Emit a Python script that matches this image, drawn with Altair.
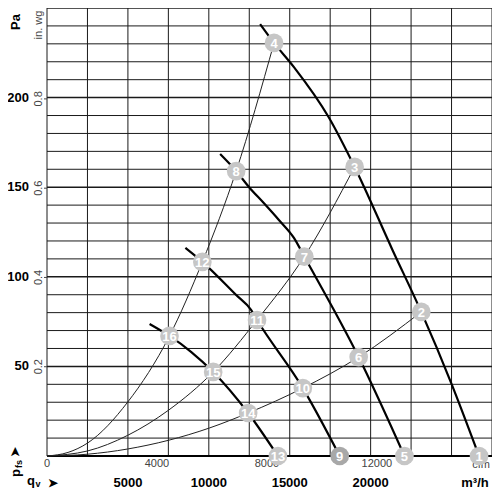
import altair as alt
import pandas as pd

# ---------------- data ----------------
# Fan curves: volume flow qv (m³/h) vs static pressure pfs (Pa)
fanA_q = [13170, 14030, 15260, 17410, 19010, 21350, 23130, 24980, 26700]
fanA_p = [241.0, 230.5, 217.0, 189.0, 161.3, 115.0, 80.4, 40.7, 0.0]
fanB_q = [10700, 11690, 12490, 13410, 14330, 15260, 15900, 19260, 22090]
fanB_p = [168.5, 159.0, 150.0, 141.0, 131.7, 121.7, 111.3, 55.2, 0.0]
fanC_q = [8550, 9600, 11690, 12610, 12980, 15810, 18090]
fanC_p = [116.1, 108.3, 89.8, 81.5, 75.9, 37.9, 0.0]
fanD_q = [6340, 7570, 8920, 10270, 12430, 14270]
fanD_p = [73.7, 67.0, 58.0, 46.9, 24.0, 0.0]

# System (resistance) curves from the origin
sys1_q = [0, 1300, 2520, 4980, 7570, 9600, 11690, 14030]
sys1_p = [0.0, 2.0, 7.3, 30.0, 67.0, 108.3, 159.0, 230.5]
sys2_q = [0, 2500, 4980, 7500, 10270, 12980, 15900, 19010]
sys2_p = [0.0, 2.8, 11.5, 25.5, 46.9, 75.9, 111.3, 161.3]
sys3_q = [0, 2500, 4980, 10030, 12430, 15810, 19260, 23130]
sys3_p = [0.0, 1.0, 3.9, 15.6, 24.0, 37.9, 55.2, 80.4]

# Operating-point markers
marker_id = [1, 2, 3, 4, 5, 6, 7, 8, 9, 10, 11, 12, 13, 14, 15, 16]
marker_q = [26700, 23130, 19010, 14030, 22090, 19260, 15900, 11690,
            18090, 15810, 12980, 9600, 14270, 12430, 10270, 7570]
marker_p = [0.0, 80.4, 161.3, 230.5, 0.0, 55.2, 111.3, 159.0,
            0.0, 37.9, 75.9, 108.3, 0.0, 24.0, 46.9, 67.0]

# Grid and tick labels
grid_q = [0, 2500, 5000, 7500, 10000, 12500, 15000, 17500, 20000, 22500, 25000, 27500]
grid_p = [0, 10, 20, 30, 40, 50, 60, 70, 80, 90, 100, 110, 120, 130, 140, 150,
          160, 170, 180, 190, 200, 210, 220, 230, 240, 250]
label_m3h = [5000, 10000, 15000, 20000]
label_pa = [50, 100, 150, 200]
label_inwg = [0.2, 0.4, 0.6, 0.8]
label_cfm = [0, 4000, 8000, 12000]

FONT = "Liberation Sans"
XS = alt.Scale(domain=[0, 27500], nice=False, zero=False)
YS = alt.Scale(domain=[0, 250], nice=False, zero=False)


def X(field="q"):
    return alt.X(f"{field}:Q", scale=XS, axis=None, title=None)


def Y(field="p"):
    return alt.Y(f"{field}:Q", scale=YS, axis=None, title=None)


def curve_frame(name, qs, ps):
    return pd.DataFrame({"curve": name, "q": qs, "p": ps, "o": list(range(len(qs)))})


fan_df = pd.concat([curve_frame("A", fanA_q, fanA_p), curve_frame("B", fanB_q, fanB_p),
                    curve_frame("C", fanC_q, fanC_p), curve_frame("D", fanD_q, fanD_p)])
sys_df = pd.concat([curve_frame("S1", sys1_q, sys1_p), curve_frame("S2", sys2_q, sys2_p),
                    curve_frame("S3", sys3_q, sys3_p)])
mk_df = pd.DataFrame({"id": marker_id, "q": marker_q, "p": marker_p})

# ---------------- grid ----------------
vgrid = alt.Chart(pd.DataFrame({"q": grid_q})).mark_rule(color="#1a1a1a", strokeWidth=1).encode(
    x=X())
hgrid = alt.Chart(pd.DataFrame({"p": grid_p})).mark_rule(color="#1a1a1a").encode(
    y=Y(),
    strokeWidth=alt.condition("datum.p % 50 === 0", alt.value(1.5), alt.value(1)),
)
base_line = alt.Chart(pd.DataFrame({"p": [0]})).mark_rule(color="black", strokeWidth=2).encode(
    y=Y())

# ---------------- tick labels ----------------
pa_text = alt.Chart(pd.DataFrame({"p": label_pa})).mark_text(
    font=FONT, fontSize=13, fontWeight="bold", color="black", align="right",
    baseline="middle").encode(y=Y(), x=alt.value(-18), text=alt.Text("p:Q", format="d"))
m3h_text = alt.Chart(pd.DataFrame({"q": label_m3h})).mark_text(
    font=FONT, fontSize=13, fontWeight="bold", color="black", align="center",
    baseline="middle").encode(x=X(), y=alt.value(475), text=alt.Text("q:Q", format="d"))

inwg_df = pd.DataFrame({"v": label_inwg})
inwg_text = alt.Chart(inwg_df).transform_calculate(p="datum.v * 249.089").mark_text(
    angle=270, font=FONT, fontSize=11, color="#444444", align="center", baseline="middle").encode(
    y=Y(), x=alt.value(-8), text=alt.Text("v:Q", format=".1f"))
inwg_ticks = alt.Chart(inwg_df).transform_calculate(p="datum.v * 249.089").mark_rule(
    color="#444444").encode(y=Y(), x=alt.value(-3), x2=alt.value(0))

cfm_text = alt.Chart(pd.DataFrame({"c": label_cfm})).transform_calculate(
    q="datum.c * 1.69901").mark_text(
    font=FONT, fontSize=11, color="#444444", align="center", baseline="middle").encode(
    x=X(), y=alt.value(456), text=alt.Text("c:Q", format="d"))

# ---------------- curves ----------------
sys_lines = alt.Chart(sys_df).mark_line(color="#222222", strokeWidth=1, interpolate="monotone").encode(
    x=X(), y=Y(), detail="curve:N", order="o:Q")
fan_lines = alt.Chart(fan_df).mark_line(color="black", strokeWidth=2.2, interpolate="monotone").encode(
    x=X(), y=Y(), detail="curve:N", order="o:Q")

# ---------------- markers ----------------
circles = alt.Chart(mk_df).mark_circle(size=350, opacity=1).encode(
    x=X(), y=Y(),
    color=alt.condition("datum.id === 9", alt.value("#a8a8a8"), alt.value("#c6c6c6")))
nums = alt.Chart(mk_df).mark_text(color="white", font=FONT, fontSize=13, fontWeight="bold",
                                  align="center", baseline="middle", dy=1).encode(
    x=X(), y=Y(), text="id:N")


# ---------------- annotations ----------------
def note(txt, x, y, size=13, weight="bold", color="black", angle=0, align="center",
         baseline="middle"):
    mk = dict(font=FONT, fontSize=size, fontWeight=weight, color=color,
              align=align, baseline=baseline)
    if angle:
        mk["angle"] = angle
    return alt.Chart(pd.DataFrame({"t": [txt]})).mark_text(**mk).encode(
        x=alt.value(x), y=alt.value(y), text="t:N")


notes = [
    note("Pa", -27, 14, angle=270, baseline="alphabetic"),
    note("in. wg", -8, 17, size=11, weight="normal", color="#444444", angle=270),
    note("p", -27, 465, angle=270, baseline="alphabetic"),
    note("fs", -25, 456, size=9, angle=270, baseline="alphabetic"),
    note("➤", -32, 444, size=12, angle=270),
    note("q", -16, 473),
    note("v", -9, 476, size=9),
    note("➤", 6, 475, size=12),
    note("m³/h", 428, 475),
    note("cfm", 434, 457, size=11, weight="normal", color="#444444"),
]

chart = alt.layer(
    vgrid, hgrid, base_line, inwg_ticks, inwg_text, cfm_text, pa_text, m3h_text, *notes,
    sys_lines, fan_lines, circles, nums,
).properties(
    width=445, height=448,
    padding={"left": 39, "top": 0, "right": 0, "bottom": 34},
    autosize=alt.AutoSizeParams(type="none"),
).configure_view(stroke=None)

chart.save("out.html", embed_options={"renderer": "svg", "actions": False})
